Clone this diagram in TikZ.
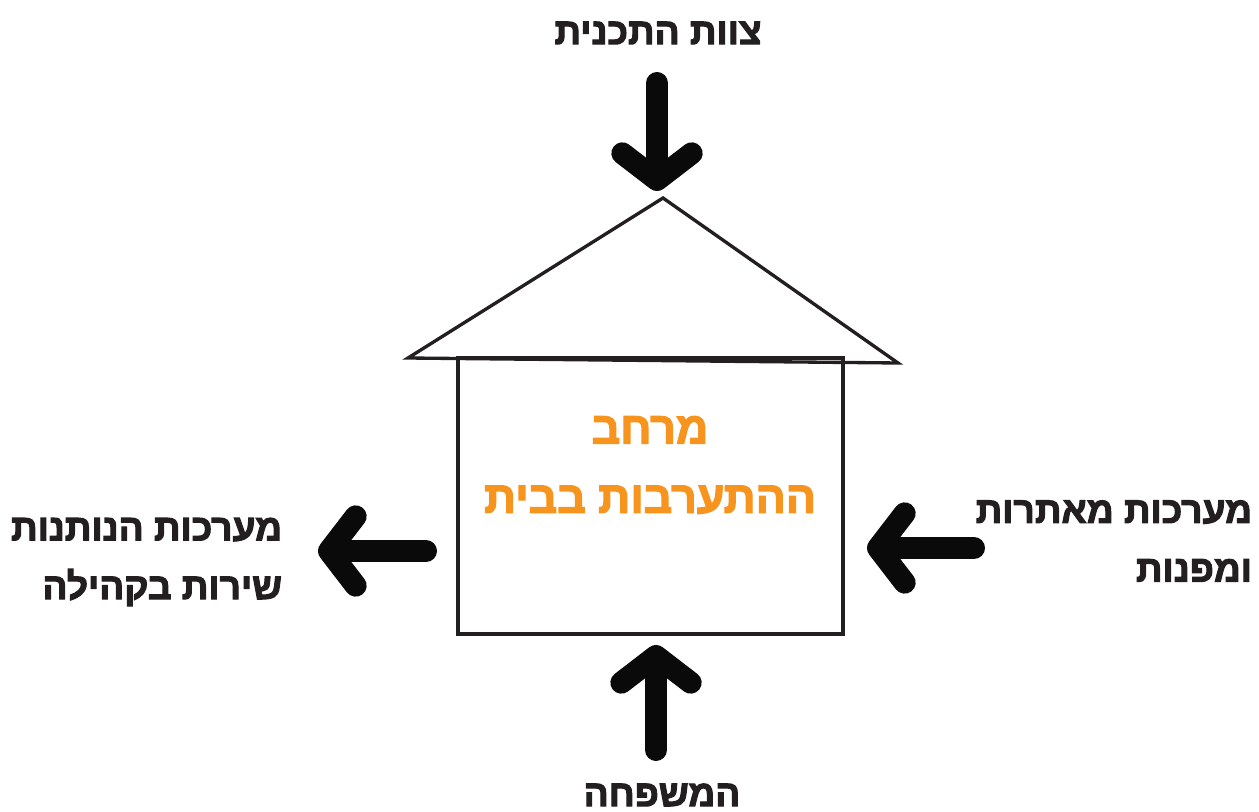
\documentclass[tikz,border=0pt]{standalone}
\usepackage{fontspec}
\usepackage{xcolor}
\usetikzlibrary{arrows.meta}
\TeXXeTstate=1
\newfontfamily\hebfont[Script=Hebrew, FakeBold=2.8]{Liberation Sans}
\definecolor{inkblack}{HTML}{0A0A0A}
\definecolor{housegray}{HTML}{231F20}
\definecolor{spaceorange}{HTML}{F7941D}

\begin{document}
\begin{tikzpicture}[
    x=0.75pt, y=-0.75pt,
    every node/.style={inner sep=0pt, outer sep=0pt},
    sidelabel/.style={font=\hebfont\bfseries\fontsize{27.8}{44}\selectfont, text=housegray, align=right},
    centrelabel/.style={font=\hebfont\bfseries\fontsize{33.5}{52}\selectfont, text=spaceorange, align=center},
    housebox/.style={draw=housegray, line width=2.5pt, minimum width=385*0.75pt, minimum height=276*0.75pt},
    roofline/.style={draw=housegray, line width=2.5pt, line join=miter},
    fatarrow/.style={draw=inkblack, line width=16.5pt, line cap=round, -{Straight Barb[length=20pt, width=52pt, round]}}
]
\useasboundingbox (0,0) rectangle (1259,812);

% House
\node[housebox] (home) at (650.5,496) {};
\coordinate (eaveL) at (408,358);
\coordinate (eaveR) at (898,363);
\coordinate (apex) at (663,198);
\draw[roofline] (eaveL) -- (apex) -- (eaveR) -- cycle;
\node[centrelabel] (space) at (650,465) {\beginR מרחב\endR\\\beginR ההתערבות בבית\endR};

% Labels round the house
\node[sidelabel] (team) at (658,33) {\beginR צוות התכנית\endR};
\node[sidelabel] (family) at (662,795) {\beginR המשפחה\endR};
\node[sidelabel, anchor=east] (community) at (282,562) {\beginR מערכות הנותנות\endR\\\beginR שירות בקהילה\endR};
\node[sidelabel, anchor=east] (referral) at (1252,541) {\beginR מערכות מאתרות\endR\\\beginR ומפנות\endR};

% Arrow ends
\coordinate (teamA) at (657,83);
\coordinate (teamB) at (657,191);
\coordinate (familyA) at (656,750);
\coordinate (familyB) at (656,645);
\coordinate (communityA) at (426,551);
\coordinate (communityB) at (318,551);
\coordinate (referralA) at (974,548);
\coordinate (referralB) at (867,548);

% Arrows
\draw[fatarrow] (teamA) -- (teamB);
\draw[fatarrow] (familyA) -- (familyB);
\draw[fatarrow] (communityA) -- (communityB);
\draw[fatarrow] (referralA) -- (referralB);

\end{tikzpicture}
\end{document}
